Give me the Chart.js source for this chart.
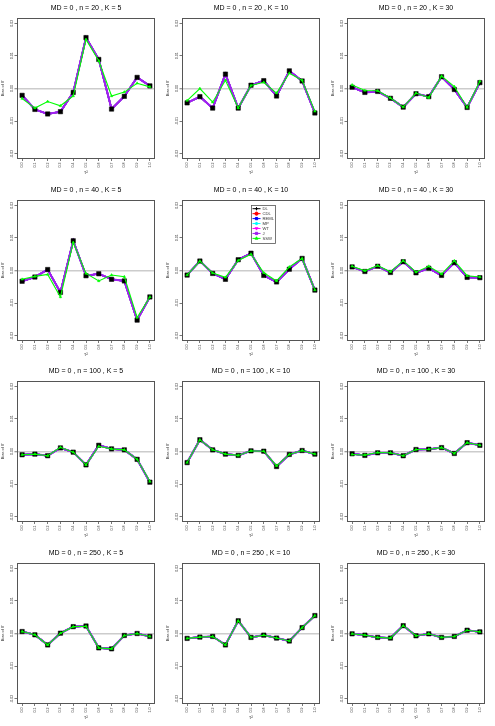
<!DOCTYPE html>
<html>
<head>
<meta charset="utf-8">
<script src="https://cdn.jsdelivr.net/npm/chart.js@4.4.0/dist/chart.umd.min.js"></script>
<style>
  html, body { margin: 0; padding: 0; background: #fff; }
  #grid { position: relative; width: 495px; height: 726px; }
  #grid canvas { position: absolute; }
</style>
</head>
<body>
<div id="grid"></div>
<script>
// tau^2 grid and axis ticks
const taus = [0, 0.1, 0.2, 0.3, 0.4, 0.5, 0.6, 0.7, 0.8, 0.9, 1.0];
const yTicks = [-0.02, -0.01, 0, 0.01, 0.02];

// one panel per (n, K), row by row
const panelN = [20, 20, 20, 40, 40, 40, 100, 100, 100, 250, 250, 250];
const panelK = [5, 10, 30, 5, 10, 30, 5, 10, 30, 5, 10, 30];

// bias of theta-hat; DL, CDL, REML, MP, WT and J coincide in the picture
const biasDL = [
  [-0.0021, -0.0064, -0.0078, -0.0071, -0.0012, 0.0156, 0.0089, -0.0063, -0.0024, 0.0034, 0.0008],
  [-0.0044, -0.0025, -0.0060, 0.0044, -0.0060, 0.0010, 0.0024, -0.0023, 0.0054, 0.0023, -0.0075],
  [0.0004, -0.0012, -0.0009, -0.0030, -0.0057, -0.0016, -0.0025, 0.0036, -0.0003, -0.0058, 0.0018],
  [-0.0033, -0.0020, 0.0003, -0.0067, 0.0091, -0.0016, -0.0010, -0.0027, -0.0032, -0.0152, -0.0081],
  [-0.0014, 0.0029, -0.0009, -0.0027, 0.0033, 0.0053, -0.0015, -0.0035, 0.0004, 0.0037, -0.0060],
  [0.0011, -0.0003, 0.0013, -0.0006, 0.0027, -0.0007, 0.0007, -0.0015, 0.0024, -0.0021, -0.0022],
  [-0.0010, -0.0008, -0.0013, 0.0011, -0.0002, -0.0041, 0.0019, 0.0008, 0.0005, -0.0024, -0.0094],
  [-0.0034, 0.0036, 0.0005, -0.0008, -0.0012, 0.0002, 0.0001, -0.0046, -0.0009, 0.0003, -0.0008],
  [-0.0007, -0.0012, -0.0004, -0.0004, -0.0013, 0.0006, 0.0007, 0.0012, -0.0006, 0.0027, 0.0019],
  [0.0006, -0.0004, -0.0035, 0.0001, 0.0021, 0.0023, -0.0044, -0.0047, -0.0006, 0.0000, -0.0009],
  [-0.0015, -0.0011, -0.0009, -0.0035, 0.0039, -0.0012, -0.0005, -0.0014, -0.0023, 0.0018, 0.0055],
  [-0.0001, -0.0005, -0.0012, -0.0014, 0.0024, -0.0007, -0.0001, -0.0012, -0.0009, 0.0010, 0.0005],
];
const biasSSW = [
  [-0.0031, -0.0060, -0.0040, -0.0053, -0.0023, 0.0150, 0.0085, -0.0023, -0.0011, 0.0016, 0.0005],
  [-0.0037, 0.0000, -0.0042, 0.0025, -0.0060, 0.0009, 0.0019, -0.0014, 0.0047, 0.0025, -0.0070],
  [0.0011, -0.0006, -0.0007, -0.0029, -0.0057, -0.0014, -0.0028, 0.0038, 0.0006, -0.0058, 0.0022],
  [-0.0027, -0.0018, -0.0012, -0.0081, 0.0086, -0.0009, -0.0032, -0.0014, -0.0019, -0.0144, -0.0081],
  [-0.0014, 0.0029, -0.0008, -0.0021, 0.0031, 0.0050, -0.0007, -0.0032, 0.0011, 0.0037, -0.0060],
  [0.0013, -0.0001, 0.0015, -0.0004, 0.0030, -0.0005, 0.0013, -0.0011, 0.0030, -0.0016, -0.0020],
  [-0.0010, -0.0008, -0.0013, 0.0013, -0.0002, -0.0041, 0.0016, 0.0008, 0.0005, -0.0024, -0.0092],
  [-0.0034, 0.0036, 0.0005, -0.0008, -0.0012, 0.0002, 0.0001, -0.0044, -0.0009, 0.0003, -0.0008],
  [-0.0009, -0.0011, -0.0003, -0.0004, -0.0013, 0.0006, 0.0007, 0.0012, -0.0006, 0.0027, 0.0019],
  [0.0006, -0.0004, -0.0035, 0.0001, 0.0021, 0.0022, -0.0044, -0.0047, -0.0006, 0.0000, -0.0009],
  [-0.0015, -0.0011, -0.0009, -0.0035, 0.0039, -0.0012, -0.0005, -0.0014, -0.0023, 0.0018, 0.0055],
  [-0.0001, -0.0005, -0.0012, -0.0014, 0.0024, -0.0007, -0.0001, -0.0012, -0.0009, 0.0010, 0.0005],
];

const methods = ['DL', 'CDL', 'REML', 'MP', 'WT', 'J', 'SSW'];
const methodColors = ['#000000', '#ff0000', '#0000ff', '#00ffff', '#ff00ff', '#a020f0', '#00ff00'];
const legendShapes = ['cross', 'circle', 'rect', 'star', 'triangle', 'rect', 'triangle'];

const FONT = "'Liberation Sans', Arial, Helvetica, sans-serif";
const PANEL_W = 165, PANEL_H = 181;

// R-style box round the plot region + vertical y tick labels
const frame = {
  id: 'frame',
  afterDraw(chart) {
    const { ctx, chartArea: a, scales: { y } } = chart;
    ctx.save();
    ctx.strokeStyle = '#555';
    ctx.lineWidth = 1;
    ctx.strokeRect(a.left + 0.5, a.top + 0.5, a.right - a.left - 1, a.bottom - a.top - 1);
    ctx.fillStyle = '#333';
    ctx.font = '3.6px ' + FONT;
    ctx.textAlign = 'center';
    ctx.textBaseline = 'middle';
    y.ticks.forEach((t) => {
      ctx.save();
      ctx.translate(a.left - 5, y.getPixelForValue(t.value));
      ctx.rotate(-Math.PI / 2);
      ctx.fillText(t.value.toFixed(2), 0, 0);
      ctx.restore();
    });
    ctx.restore();
  },
};

// small boxed legend inside one panel
const insetLegend = {
  id: 'insetLegend',
  afterDraw(chart, args, opts) {
    if (!opts.show) return;
    const { ctx } = chart;
    const { x, y, w, h, rowH } = opts;
    ctx.save();
    ctx.fillStyle = '#fff';
    ctx.fillRect(x, y, w, h);
    ctx.strokeStyle = '#555';
    ctx.lineWidth = 0.8;
    ctx.strokeRect(x + 0.5, y + 0.5, w, h);
    ctx.font = '4.2px ' + FONT;
    ctx.textBaseline = 'middle';
    ctx.textAlign = 'left';
    chart.data.datasets.forEach((ds, j) => {
      const cy = y + 3.7 + j * rowH;
      ctx.strokeStyle = ds.borderColor;
      ctx.fillStyle = ds.borderColor;
      ctx.lineWidth = 1;
      ctx.beginPath();
      ctx.moveTo(x + 1.5, cy);
      ctx.lineTo(x + 9.5, cy);
      ctx.stroke();
      Chart.helpers.drawPoint(ctx, {
        pointStyle: ds.legendShape, radius: 1.6, rotation: ds.label === 'WT' ? 180 : 0, borderWidth: 0.8,
      }, x + 5.5, cy);
      ctx.fillStyle = '#333';
      ctx.fillText(ds.label, x + 11.5, cy);
    });
    ctx.restore();
  },
};

const grid = document.getElementById('grid');

panelN.forEach((n, i) => {
  const canvas = document.createElement('canvas');
  canvas.width = PANEL_W;
  canvas.height = PANEL_H;
  canvas.style.left = (i % 3) * PANEL_W + 'px';
  canvas.style.top = Math.round(Math.floor(i / 3) * 181.5) + 'px';
  canvas.style.width = PANEL_W + 'px';
  canvas.style.height = PANEL_H + 'px';
  grid.appendChild(canvas);

  const datasets = methods.map((m, j) => {
    const vals = m === 'SSW' ? biasSSW[i] : biasDL[i];
    const marker = m === 'J' ? '#000000' : methodColors[j];
    return {
      label: m,
      data: taus.map((t, k) => ({ x: t, y: vals[k] })),
      borderColor: methodColors[j],
      backgroundColor: methodColors[j],
      borderWidth: m === 'SSW' ? 1.1 : (m === 'J' ? 2 : 1.6),
      pointStyle: m === 'SSW' ? 'triangle' : 'rect',
      pointRadius: m === 'J' ? 3.1 : (m === 'SSW' ? 1.5 : 0),
      pointBackgroundColor: marker,
      pointBorderColor: marker,
      pointBorderWidth: 0.5,
      tension: 0,
      order: methods.length - 1 - j,
      legendShape: legendShapes[j],
    };
  });

  new Chart(canvas, {
    type: 'line',
    data: { datasets },
    options: {
      responsive: false,
      animation: false,
      devicePixelRatio: 1,
      layout: { padding: { top: 0, right: 10, bottom: 0, left: 0 } },
      plugins: {
        legend: { display: false },
        tooltip: { enabled: false },
        title: {
          display: true,
          fullSize: false,
          text: `MD = 0 , n = ${n} , K = ${panelK[i]}`,
          color: '#000',
          font: { family: FONT, size: 7, weight: 'normal', lineHeight: 1.2 },
          padding: { top: 4, bottom: 5.6 },
        },
        insetLegend: { show: i === 4, x: 86, y: 23, w: 24, h: 38, rowH: 4.95 },
      },
      scales: {
        x: {
          type: 'linear',
          min: -0.04,
          max: 1.04,
          afterBuildTicks: (s) => { s.ticks = taus.map((v) => ({ value: v })); },
          afterFit: (s) => { s.height = 22; },
          ticks: {
            minRotation: 90, maxRotation: 90, autoSkip: false, padding: 1.5,
            color: '#333', font: { family: FONT, size: 3.6 },
            callback: (v) => Number(v).toFixed(1),
          },
          grid: { drawOnChartArea: false, tickLength: 2, color: '#555', lineWidth: 0.8 },
          border: { display: false },
          title: {
            display: true, text: 'τ²', color: '#333',
            font: { family: FONT, size: 4.5 }, padding: { top: 0, bottom: 5.3 },
          },
        },
        y: {
          min: -0.0216,
          max: 0.0216,
          afterBuildTicks: (s) => { s.ticks = yTicks.map((v) => ({ value: v })); },
          afterFit: (s) => { s.width = 17; },
          ticks: { display: false },
          grid: {
            color: (c) => (c.tick && c.tick.value === 0 ? '#cccccc' : 'rgba(0,0,0,0)'),
            lineWidth: (c) => (c.tick && c.tick.value === 0 ? 1.5 : 0.8),
            tickColor: '#555',
            tickWidth: 0.8,
            tickLength: 2.5,
          },
          border: { display: false },
          title: {
            display: true, text: 'Bias of θ̂', color: '#333',
            font: { family: FONT, size: 4 }, padding: { top: 0.6, bottom: 0 },
          },
        },
      },
    },
    plugins: [frame, insetLegend],
  });
});
</script>
</body>
</html>
